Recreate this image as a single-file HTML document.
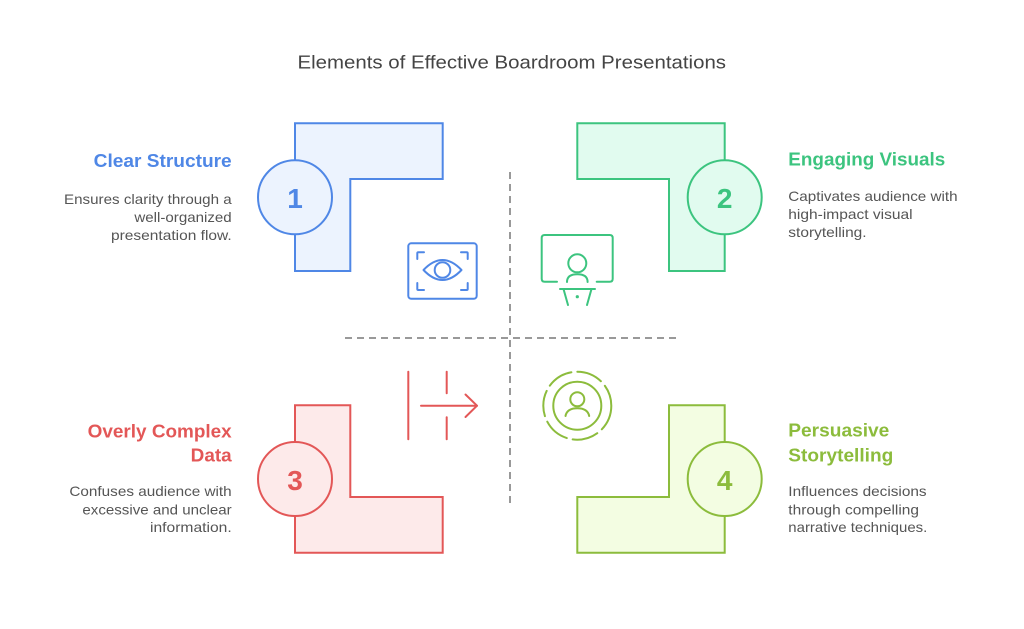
<!DOCTYPE html>
<html>
<head>
<meta charset="utf-8">
<style>
  html,body{margin:0;padding:0;background:#fff;}
  svg{display:block;}
  text{font-family:"Liberation Sans",Arial,sans-serif;}
</style>
</head>
<body>
<svg width="1024" height="629" viewBox="0 0 1024 629" xmlns="http://www.w3.org/2000/svg">
  <rect width="1024" height="629" fill="#ffffff"/>

  <!-- Title -->
  <text x="297.5" y="68.5" font-size="18" fill="#444" textLength="428.5" lengthAdjust="spacingAndGlyphs">Elements of Effective Boardroom Presentations</text>

  <!-- Dashed cross -->
  <line x1="510" y1="172" x2="510" y2="503" stroke="#999" stroke-width="2" stroke-dasharray="7 5"/>
  <line x1="345" y1="338" x2="676" y2="338" stroke="#999" stroke-width="2" stroke-dasharray="7 5"/>

  <!-- Shape 1 (blue) -->
  <path d="M295,123.3 H442.7 V179 H350.3 V271 H295 Z" fill="#ecf3fe" stroke="#4f87e6" stroke-width="2"/>
  <circle cx="295" cy="197.3" r="37" fill="#ecf3fe" stroke="#4f87e6" stroke-width="2"/>
  <text x="295" y="208" font-size="28" font-weight="bold" fill="#4f87e6" text-anchor="middle">1</text>

  <!-- Shape 2 (green) -->
  <path d="M577.3,123.3 H724.7 V271 H669 V179 H577.3 Z" fill="#e1fbef" stroke="#3cc47f" stroke-width="2"/>
  <circle cx="724.7" cy="197.3" r="37" fill="#e1fbef" stroke="#3cc47f" stroke-width="2"/>
  <text x="724.7" y="208" font-size="28" font-weight="bold" fill="#3cc47f" text-anchor="middle">2</text>

  <!-- Shape 3 (red) -->
  <path d="M295,405.3 H350.3 V497 H442.7 V552.7 H295 Z" fill="#fdeaea" stroke="#e35757" stroke-width="2"/>
  <circle cx="295" cy="479" r="37" fill="#fdeaea" stroke="#e35757" stroke-width="2"/>
  <text x="295" y="490" font-size="28" font-weight="bold" fill="#e35757" text-anchor="middle">3</text>

  <!-- Shape 4 (lime) -->
  <path d="M669,405.3 H724.7 V552.7 H577.3 V497 H669 Z" fill="#f3fde2" stroke="#8cbc3c" stroke-width="2"/>
  <circle cx="724.7" cy="479" r="37" fill="#f3fde2" stroke="#8cbc3c" stroke-width="2"/>
  <text x="724.7" y="490" font-size="28" font-weight="bold" fill="#8cbc3c" text-anchor="middle">4</text>

  <!-- Eye icon (blue) -->
  <g fill="none" stroke="#4f87e6" stroke-width="2" stroke-linecap="round" stroke-linejoin="round">
    <rect x="408.3" y="243.3" width="68.4" height="55.5" rx="3"/>
    <path d="M417.3,259 V253.3 Q417.3,252.3 418.3,252.3 H424"/>
    <path d="M461,252.3 H466.7 Q467.7,252.3 467.7,253.3 V259"/>
    <path d="M417.3,283 V289 Q417.3,290 418.3,290 H424"/>
    <path d="M461,290 H466.7 Q467.7,290 467.7,289 V283"/>
    <path d="M423.5,270 Q442.5,250 461.5,270 Q442.5,290 423.5,270 Z"/>
    <circle cx="442.5" cy="270" r="7.8"/>
  </g>

  <!-- Presenter icon (green) -->
  <g fill="none" stroke="#3cc47f" stroke-width="2" stroke-linecap="round" stroke-linejoin="round">
    <path d="M557,281.7 H544.7 Q541.7,281.7 541.7,278.7 V238 Q541.7,235 544.7,235 H609.7 Q612.7,235 612.7,238 V278.7 Q612.7,281.7 609.7,281.7 H596.7"/>
    <circle cx="577.3" cy="263.3" r="9"/>
    <path d="M567,282 Q567,274.3 577.3,274.3 Q587.6,274.3 587.6,282"/>
    <line x1="560" y1="289" x2="595" y2="289"/>
    <line x1="563.5" y1="289" x2="568" y2="305"/>
    <line x1="591.5" y1="289" x2="587" y2="305"/>
  </g>
  <circle cx="577.3" cy="296.7" r="1.6" fill="#3cc47f"/>

  <!-- Arrow icon (red) -->
  <g fill="none" stroke="#e35757" stroke-width="2" stroke-linecap="round" stroke-linejoin="round">
    <line x1="408.3" y1="371.7" x2="408.3" y2="439.3"/>
    <line x1="446.7" y1="371.7" x2="446.7" y2="393.3"/>
    <line x1="446.7" y1="417.3" x2="446.7" y2="439.3"/>
    <line x1="421" y1="405.7" x2="477" y2="405.7"/>
    <polyline points="465.5,394.5 477,405.7 465.5,417"/>
  </g>

  <!-- Person in circle icon (lime) -->
  <g fill="none" stroke="#8cbc3c" stroke-width="2" stroke-linecap="round">
    <circle cx="577.3" cy="405.7" r="34" stroke-dasharray="26 6"/>
    <circle cx="577.3" cy="405.7" r="24"/>
    <circle cx="577.3" cy="399.3" r="7"/>
    <path d="M565.5,416 Q567,408.3 577.3,408.3 Q587.6,408.3 589.2,416"/>
  </g>

  <!-- Left top text -->
  <text x="231.7" y="167" font-size="18" font-weight="bold" fill="#4f87e6" text-anchor="end" textLength="138" lengthAdjust="spacingAndGlyphs">Clear Structure</text>
  <g font-size="14" fill="#555" text-anchor="end">
    <text x="231.7" y="204" textLength="167.7" lengthAdjust="spacingAndGlyphs">Ensures clarity through a</text>
    <text x="231.7" y="222" textLength="97.3" lengthAdjust="spacingAndGlyphs">well-organized</text>
    <text x="231.7" y="240" textLength="120.7" lengthAdjust="spacingAndGlyphs">presentation flow.</text>
  </g>

  <!-- Right top text -->
  <text x="788.3" y="165.7" font-size="18" font-weight="bold" fill="#3cc47f" textLength="157" lengthAdjust="spacingAndGlyphs">Engaging Visuals</text>
  <g font-size="14" fill="#555">
    <text x="788.3" y="201" textLength="169.3" lengthAdjust="spacingAndGlyphs">Captivates audience with</text>
    <text x="788.3" y="219" textLength="124.3" lengthAdjust="spacingAndGlyphs">high-impact visual</text>
    <text x="788.3" y="237" textLength="78.3" lengthAdjust="spacingAndGlyphs">storytelling.</text>
  </g>

  <!-- Left bottom text -->
  <text x="231.7" y="437.3" font-size="18" font-weight="bold" fill="#e35757" text-anchor="end" textLength="144" lengthAdjust="spacingAndGlyphs">Overly Complex</text>
  <text x="231.7" y="461.7" font-size="18" font-weight="bold" fill="#e35757" text-anchor="end" textLength="41" lengthAdjust="spacingAndGlyphs">Data</text>
  <g font-size="14" fill="#555" text-anchor="end">
    <text x="231.7" y="496" textLength="162.3" lengthAdjust="spacingAndGlyphs">Confuses audience with</text>
    <text x="231.7" y="514.3" textLength="149.3" lengthAdjust="spacingAndGlyphs">excessive and unclear</text>
    <text x="231.7" y="532" textLength="81.7" lengthAdjust="spacingAndGlyphs">information.</text>
  </g>

  <!-- Right bottom text -->
  <text x="788.3" y="436.7" font-size="18" font-weight="bold" fill="#8cbc3c" textLength="101" lengthAdjust="spacingAndGlyphs">Persuasive</text>
  <text x="788.3" y="461.7" font-size="18" font-weight="bold" fill="#8cbc3c" textLength="105" lengthAdjust="spacingAndGlyphs">Storytelling</text>
  <g font-size="14" fill="#555">
    <text x="788.3" y="496" textLength="138.3" lengthAdjust="spacingAndGlyphs">Influences decisions</text>
    <text x="788.3" y="514.3" textLength="130.7" lengthAdjust="spacingAndGlyphs">through compelling</text>
    <text x="788.3" y="532" textLength="139" lengthAdjust="spacingAndGlyphs">narrative techniques.</text>
  </g>
</svg>
</body>
</html>
